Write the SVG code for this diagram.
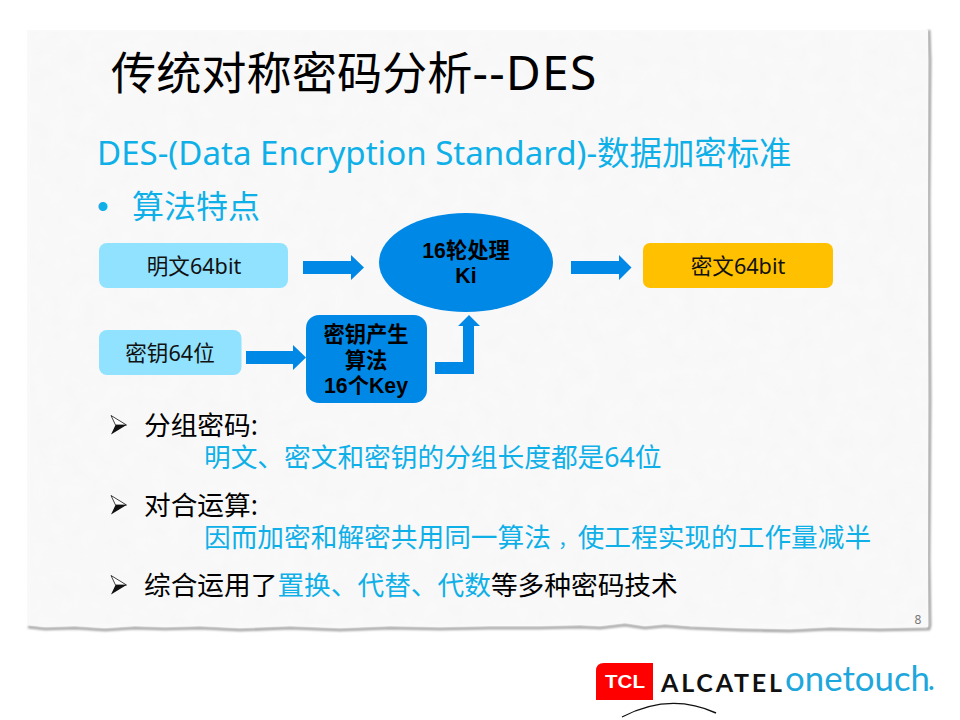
<svg xmlns="http://www.w3.org/2000/svg" width="960" height="720" viewBox="0 0 960 720">
<defs>
<filter id="blur" x="-5%" y="-5%" width="110%" height="110%"><feGaussianBlur stdDeviation="1.1"/></filter>
<filter id="soft" x="-2%" y="-2%" width="104%" height="104%"><feGaussianBlur stdDeviation="0.7"/></filter>
<filter id="grain" x="0" y="0" width="100%" height="100%"><feTurbulence type="fractalNoise" baseFrequency="0.06" numOctaves="3" seed="4"/><feColorMatrix values="0 0 0 0 0.6 0 0 0 0 0.6 0 0 0 0 0.6 0.07 0 0 0 -0.012"/><feComposite in2="SourceAlpha" operator="in"/></filter>
</defs>
<style>
text{font-family:"Noto Sans","Noto Sans CJK SC",sans-serif}
.c{fill:#0fb0e8}
.k{fill:#000}
.b{font-family:"Liberation Sans","Noto Sans CJK SC",sans-serif;font-weight:700;font-size:21.300px;text-anchor:middle;fill:#000}
.n{font-size:21.600px;text-anchor:middle;fill:#111}
.l{font-size:26.700px}
.ar{fill:#0088e6}
.tip{fill:#fff;stroke:#111;stroke-width:.8}
.tipd{fill:#111}
</style>
<rect width="960" height="720" fill="#fff"/>
<path id="paper-shadow" d="M28 627 L45 629 L75 628 L105 630 L135 628 L165 629 L200 628 L240 630 L290 628 L340 630 L390 628 L440 629 L490 628 L540 628 L580 627 L600 628 L625 625 L645 628 L665 626 L690 628 L740 630 L790 631 L830 629 L880 630 L929 629 L930 625 L929 560 L930 400 L929 200 L930 60 L929 30" fill="none" stroke="#9c9c9c" stroke-width="2.600" filter="url(#blur)"/>
<path id="paper" d="M27 30 L928 30 L928 627 L880 628 L830 627 L790 629 L740 628 L690 626 L665 624 L645 626 L625 623 L600 626 L580 625 L540 626 L490 626 L440 627 L390 626 L340 628 L290 626 L240 628 L200 626 L165 627 L135 626 L105 628 L75 626 L45 627 L27 625 Z" fill="#f9f9f9" filter="url(#soft)"/>
<rect x="30" y="32" width="896" height="592" fill="#fff" filter="url(#grain)"/>
<text x="111" y="90" font-size="45.200" class="k">传统对称密码分析<tspan font-size="48" letter-spacing="1.200">--DES</tspan></text>
<text x="97" y="165" font-size="33.100" class="c">DES-(Data Encryption Standard)-<tspan font-size="32.400">数据加密标准</tspan></text>
<text x="97" y="218" font-size="33" class="c" style="font-family:'Liberation Sans',sans-serif">•</text>
<text x="132" y="218" font-size="32" class="c">算法特点</text>
<g id="connectors">
<path class="ar" d="M303 261H351V255L364 267.500L351 280V274H303Z"/>
<path class="ar" d="M571 261H619V255L631.500 267.500L619 280V274H571Z"/>
<path class="ar" d="M246 351H293V345L306 357.500L293 370V364H246Z"/>
<path class="ar" d="M435 362H463V326H458L469 315L480 326H474V374H435Z"/>
</g>
<g id="plain"><rect x="99" y="243" width="189" height="45" rx="8" fill="#90e2ff"/><text x="194" y="274" class="n">明文64bit</text></g>
<g id="key"><rect x="99" y="330" width="142.500" height="45" rx="8" fill="#90e2ff"/><text x="170" y="361" class="n">密钥64位</text></g>
<g id="rounds"><ellipse cx="466" cy="262.500" rx="87" ry="49.500" fill="#0088e6"/><text x="466" y="258" class="b">16轮处理</text><text x="466" y="283" class="b">Ki</text></g>
<g id="cipher"><rect x="643" y="243" width="190" height="45" rx="7" fill="#ffc000"/><text x="738" y="274" class="n">密文64bit</text></g>
<g id="keygen"><rect x="306" y="315" width="121" height="88" rx="13" fill="#0088e6"/><text x="366" y="342" class="b">密钥产生</text><text x="366" y="368" class="b">算法</text><text x="366" y="393" class="b">16个Key</text></g>
<path class="tip" d="M111 415.500L126.500 425L115.500 425Z M111 495.500L126.500 505L115.500 505Z M111 575.500L126.500 585L115.500 585Z"/>
<path class="tipd" d="M111 434.500L126.500 425L115.500 425Z M111 514.500L126.500 505L115.500 505Z M111 594.500L126.500 585L115.500 585Z"/>
<text x="144" y="435" class="l k">分组密码:</text>
<text x="204" y="467" class="l c">明文、密文和密钥的分组长度都是64位</text>
<text x="144" y="515" class="l k">对合运算:</text>
<text x="204" y="547" class="l c">因而加密和解密共用同一算法<tspan dx="7" font-size="19.700">，</tspan>使工程实现的工作量减半</text>
<text x="144" y="595" class="l k">综合运用了<tspan class="c">置换、代替、代数</tspan>等多种密码技术</text>
<text x="918" y="624" font-size="12" text-anchor="middle" fill="#777">8</text>
<g id="logo">
<path d="M604 663H653V700H596V671Q596 663 604 663Z" fill="#ff0000"/>
<text x="605" y="688" font-size="18" font-weight="900" fill="#fff" textLength="40" lengthAdjust="spacingAndGlyphs" style="font-family:'Liberation Sans',sans-serif">TCL</text>
<text x="661" y="692" font-size="25" font-weight="700" fill="#111" textLength="121" style="font-family:'Lato',sans-serif">ALCATEL</text>
<text x="785" y="691" font-size="35" font-weight="400" fill="#1ea7dc" textLength="145" lengthAdjust="spacingAndGlyphs" style="font-family:'Lato',sans-serif">onetouch</text>
<circle cx="931.500" cy="688" r="2" fill="#1ea7dc"/>
<path d="M622 717Q670 692 716 713" fill="none" stroke="#111" stroke-width="1.400"/>
</g>
</svg>
